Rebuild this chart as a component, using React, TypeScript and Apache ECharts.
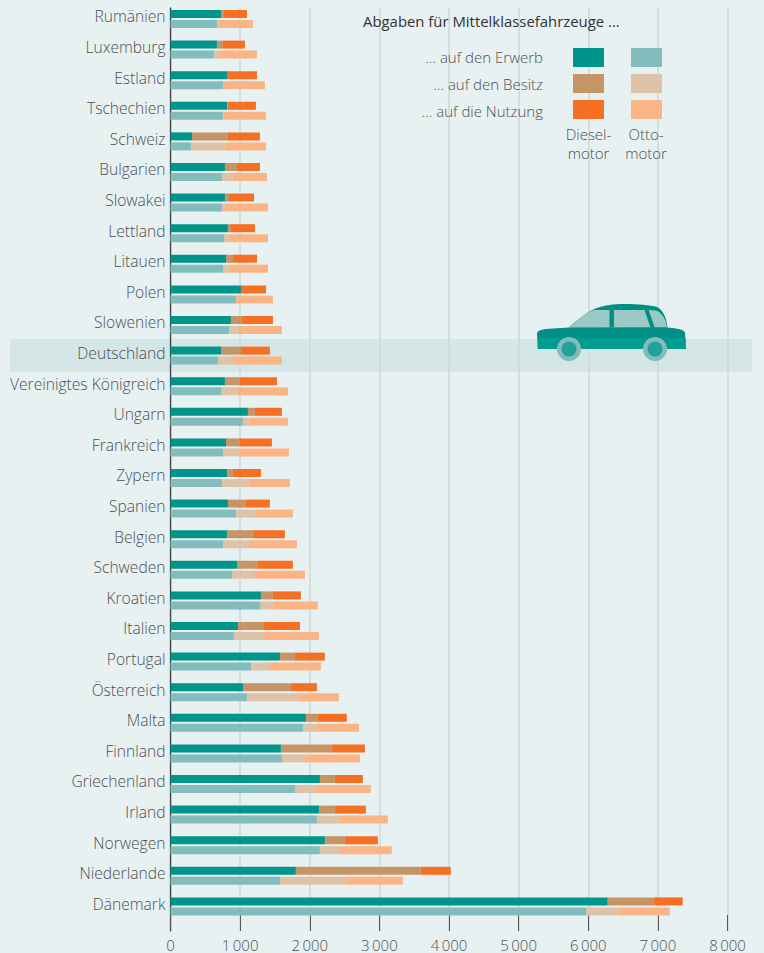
import React, { useEffect, useRef } from "react";
import * as echarts from "echarts";

const countries = ["Rumänien","Luxemburg","Estland","Tschechien","Schweiz","Bulgarien","Slowakei","Lettland","Litauen","Polen","Slowenien","Deutschland","Vereinigtes Königreich","Ungarn","Frankreich","Zypern","Spanien","Belgien","Schweden","Kroatien","Italien","Portugal","Österreich","Malta","Finnland","Griechenland","Irland","Norwegen","Niederlande","Dänemark"];
const dieselErwerb = [725,667,811,811,309,782,782,825,797,1012,868,725,782,1112,797,811,825,811,955,1299,969,1572,1041,1945,1586,2146,2132,2218,1801,6280];
const dieselBesitz = [43,86,0,9,516,173,58,43,100,0,158,287,215,101,200,86,259,388,301,172,373,215,689,172,732,215,229,287,1794,660];
const dieselNutzung = [330,316,431,407,460,330,359,345,345,359,445,416,532,387,460,402,344,445,502,402,517,430,373,416,474,402,445,474,431,416];
const ottoErwerb = [667,624,753,753,294,739,739,768,754,940,840,682,725,1041,754,739,940,754,883,1285,911,1156,1098,1902,1600,1787,2103,2146,1572,5978];
const ottoBesitz = [44,87,0,5,488,172,58,86,100,0,143,215,244,100,243,402,273,373,301,200,431,258,746,187,345,302,315,287,947,474];
const ottoNutzung = [473,531,603,613,589,474,603,546,546,531,617,703,718,546,704,574,545,689,747,632,790,746,574,617,775,789,704,746,818,718];

const FONT = '"Open Sans", "Noto Sans", sans-serif';
const BG = "#e8f1f2";
const TEXT = "#4c4f50";
const C = { dE: "#00958a", dB: "#c59566", dN: "#f57022", oE: "#82bcbc", oB: "#dfc3a8", oN: "#fbb484" };

echarts.graphic.registerShape("carRoof", echarts.graphic.extendPath("M569 327.5 C583 315 592 309 600 307 C608 304.5 618 304 625 304 C638 304 650 305 657 307 C663 310 667 318 667.5 328 Z", {}));
echarts.graphic.registerShape("carWinA", echarts.graphic.extendPath("M569.5 327.5 C578 319 586 313 594 310 L609.5 310 L609.5 327.5 Z", {}));
echarts.graphic.registerShape("carWinB", echarts.graphic.extendPath("M614 310 L644.5 310 L650.5 327.5 L614 327.5 Z", {}));
echarts.graphic.registerShape("carWinC", echarts.graphic.extendPath("M648.7 310 L656 310.5 C662 313 666 319 667 327.5 L654.7 327.5 Z", {}));
echarts.graphic.registerShape("carBody", echarts.graphic.extendPath("M569 327.5 L667 327.5 C675 328 683 329 685 332.5 L685.7 349 L537.8 349 L537 334 C537 331 540 330 545 329 Z", {}));

function label(text: string, x: number, y: number, align: string, size = 15, fill = TEXT, weight: any = 300) {
  return { type: "text", z: 5, silent: true, style: { text, x, y, fill, font: `${weight} ${size}px ${FONT}`, textAlign: align, textVerticalAlign: "middle" } };
}
function swatch(x: number, y: number, fill: string) {
  return { type: "rect", z: 5, silent: true, shape: { x, y, width: 31, height: 19 }, style: { fill } };
}
function bar(name: string, stack: string, data: number[], color: string) {
  return { name, type: "bar", stack, data, barWidth: 8, barGap: "25%", xAxisIndex: 0, yAxisIndex: 0, itemStyle: { color }, silent: true };
}

export default function App() {
  const ref = useRef<HTMLDivElement>(null);
  useEffect(() => {
    document.body.style.margin = "0";
    document.body.style.background = BG;
    const chart = echarts.init(ref.current!, undefined, { renderer: "svg" });
    chart.setOption({
      animation: false,
      backgroundColor: BG,
      grid: [
        { left: 170.5, top: 3.7, width: 557, height: 918 },
        { left: 170.5, top: 8, width: 557, height: 923 },
        { left: 170.5, top: 1, width: 557, height: 918 },
      ],
      xAxis: [
        { gridIndex: 0, type: "value", min: 0, max: 8000, show: false },
        {
          gridIndex: 1, type: "value", min: 0, max: 8000, interval: 1000, position: "bottom",
          axisLine: { show: false },
          axisTick: { show: true, inside: true, length: 16, lineStyle: { color: "#555", width: 1 } },
          splitLine: { show: true, lineStyle: { color: "#cdd7d9", width: 1.5 } },
          axisLabel: {
            margin: 6, color: TEXT, fontFamily: FONT, fontWeight: 300, fontSize: 15,
            hideOverlap: false, showMinLabel: true, showMaxLabel: true,
            formatter: (v: number) => (v === 0 ? "0" : `${v / 1000}\u2009000`),
          },
        },
        { gridIndex: 2, type: "value", min: 0, max: 8000, show: false },
      ],
      yAxis: [
        {
          gridIndex: 0, type: "category", inverse: true, data: countries,
          axisLine: { show: false }, axisTick: { show: false }, splitLine: { show: false }, axisLabel: { show: false },
        },
        {
          gridIndex: 1, type: "value", min: 0, max: 1, interval: 1,
          axisLine: { show: true, onZero: false, lineStyle: { color: "#3f4444", width: 1.3 } },
          axisTick: { show: false }, splitLine: { show: false }, axisLabel: { show: false },
        },
        {
          gridIndex: 2, type: "category", inverse: true, data: countries,
          axisLine: { show: false }, axisTick: { show: false }, splitLine: { show: false },
          axisLabel: { margin: 5, color: TEXT, fontFamily: FONT, fontWeight: 300, fontSize: 15.6, interval: 0 },
        },
      ],
      series: [
        bar("Dieselmotor: Erwerb", "diesel", dieselErwerb, C.dE),
        bar("Dieselmotor: Besitz", "diesel", dieselBesitz, C.dB),
        bar("Dieselmotor: Nutzung", "diesel", dieselNutzung, C.dN),
        bar("Ottomotor: Erwerb", "otto", ottoErwerb, C.oE),
        bar("Ottomotor: Besitz", "otto", ottoBesitz, C.oB),
        bar("Ottomotor: Nutzung", "otto", ottoNutzung, C.oN),
      ],
      graphic: [
        { type: "rect", z: -1, silent: true, shape: { x: 10, y: 339, width: 742, height: 33 }, style: { fill: "#d5e6e6" } },
        label("Abgaben für Mittelklassefahrzeuge ...", 363, 21, "left", 14.9, "#333", 400),
        label("... auf den Erwerb", 543, 57, "right"),
        label("... auf den Besitz", 543, 84, "right"),
        label("... auf die Nutzung", 543, 111, "right"),
        swatch(573, 48, C.dE), swatch(631, 48, C.oE),
        swatch(573, 74, C.dB), swatch(631, 74, C.oB),
        swatch(573, 100, C.dN), swatch(631, 100, C.oN),
        label("Diesel-", 588.5, 134, "center"),
        label("motor", 588.5, 152.5, "center"),
        label("Otto-", 646, 134, "center"),
        label("motor", 646, 152.5, "center"),
        { type: "carRoof", z: 10, silent: true, style: { fill: "#008f84" } },
        { type: "carWinA", z: 11, silent: true, style: { fill: "#9cc8c6" } },
        { type: "carWinB", z: 11, silent: true, style: { fill: "#9cc8c6" } },
        { type: "carWinC", z: 11, silent: true, style: { fill: "#9cc8c6" } },
        { type: "carBody", z: 11, silent: true, style: { fill: "#008f84" } },
        { type: "rect", z: 12, silent: true, shape: { x: 537.8, y: 338, width: 147.9, height: 11 }, style: { fill: "#009c90" } },
        { type: "circle", z: 13, silent: true, shape: { cx: 569, cy: 349, r: 12 }, style: { fill: "#82bcbc" } },
        { type: "circle", z: 14, silent: true, shape: { cx: 569, cy: 349, r: 7.5 }, style: { fill: "#22a198" } },
        { type: "circle", z: 13, silent: true, shape: { cx: 655, cy: 349, r: 12 }, style: { fill: "#82bcbc" } },
        { type: "circle", z: 14, silent: true, shape: { cx: 655, cy: 349, r: 7.5 }, style: { fill: "#22a198" } },
      ],
    });
    return () => chart.dispose();
  }, []);
  return <div ref={ref} style={{ width: 764, height: 953 }} />;
}
